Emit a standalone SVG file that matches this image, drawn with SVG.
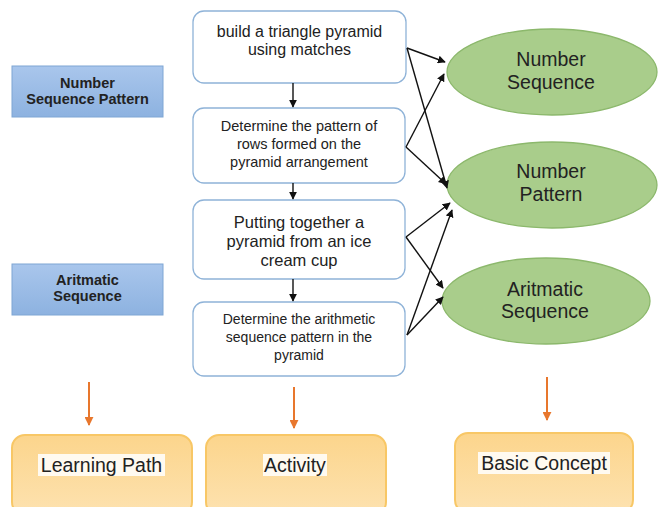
<svg xmlns="http://www.w3.org/2000/svg" width="659" height="507" viewBox="0 0 659 507">
<defs>
<linearGradient id="gBlue" x1="0" y1="0" x2="0" y2="1"><stop offset="0" stop-color="#a9c6ec"/><stop offset="1" stop-color="#8db2e0"/></linearGradient>
<linearGradient id="gOr" x1="0" y1="0" x2="0" y2="1"><stop offset="0" stop-color="#fcd58c"/><stop offset="1" stop-color="#fde2b0"/></linearGradient>
<marker id="ab" viewBox="0 0 10 10" refX="9" refY="5" markerWidth="8" markerHeight="8" markerUnits="userSpaceOnUse" orient="auto"><path d="M0,0 L10,5 L0,10 z" fill="#111"/></marker>
<marker id="ao" viewBox="0 0 10 10" refX="9" refY="5" markerWidth="9" markerHeight="9" markerUnits="userSpaceOnUse" orient="auto"><path d="M0,0 L10,5 L0,10 z" fill="#e8772d"/></marker>
</defs>
<style>
text{font-family:"Liberation Sans",Arial,sans-serif;fill:#222;text-anchor:middle}
.blue{fill:url(#gBlue);stroke:#7fa6d4;stroke-width:1}
.bt{font-weight:bold;font-size:14.5px}
.act{fill:#fff;stroke:#8fb3d8;stroke-width:1.3}
.ell{fill:#a9cd8b;stroke:#8cb86c;stroke-width:1.3}
.et{font-size:19.5px}
.org{fill:url(#gOr);stroke:#f8c766;stroke-width:2}
.ot{font-size:19.5px}
.hl{fill:#fffaf0}
.c{stroke:#111;stroke-width:1.4;fill:none;marker-end:url(#ab)}
.co{stroke:#e8772d;stroke-width:2;fill:none;marker-end:url(#ao)}
</style>
<rect width="659" height="507" fill="#fff"/>

<g id="lp1"><rect class="blue" x="12" y="66" width="151" height="51"/><text class="bt" x="87.5" y="88">Number</text><text class="bt" x="87.5" y="104">Sequence Pattern</text></g>
<g id="lp2"><rect class="blue" x="12" y="264" width="151" height="51"/><text class="bt" x="87.5" y="285">Aritmatic</text><text class="bt" x="87.5" y="301">Sequence</text></g>

<g id="a1"><rect class="act" x="193" y="11" width="213" height="72" rx="11"/><text font-size="16" x="299.5" y="37">build a triangle pyramid</text><text font-size="16" x="299.5" y="55">using matches</text></g>
<g id="a2"><rect class="act" x="193" y="108" width="212" height="75" rx="11"/><text font-size="14.5" x="299" y="131">Determine the pattern of</text><text font-size="14.5" x="299" y="149">rows formed on the</text><text font-size="14.5" x="299" y="167">pyramid arrangement</text></g>
<g id="a3"><rect class="act" x="193" y="200" width="212" height="79" rx="11"/><text font-size="16.5" x="299" y="228">Putting together a</text><text font-size="16.5" x="299" y="247">pyramid from an ice</text><text font-size="16.5" x="299" y="266">cream cup</text></g>
<g id="a4"><rect class="act" x="193" y="302" width="212" height="74" rx="11"/><text font-size="14" x="299" y="324">Determine the arithmetic</text><text font-size="14" x="299" y="342">sequence pattern in the</text><text font-size="14" x="299" y="360">pyramid</text></g>

<g id="c1"><ellipse class="ell" cx="552" cy="72" rx="105" ry="43"/><text class="et" x="551" y="66">Number</text><text class="et" x="551" y="89">Sequence</text></g>
<g id="c2"><ellipse class="ell" cx="552" cy="185" rx="105" ry="43"/><text class="et" x="551" y="178">Number</text><text class="et" x="551" y="201">Pattern</text></g>
<g id="c3"><ellipse class="ell" cx="546" cy="301" rx="104" ry="43"/><text class="et" x="545" y="296">Aritmatic</text><text class="et" x="545" y="318">Sequence</text></g>

<g id="o1"><rect class="org" x="12" y="435" width="180" height="80" rx="13"/><rect class="hl" x="38" y="454" width="127" height="22"/><text class="ot" x="101.5" y="472">Learning Path</text></g>
<g id="o2"><rect class="org" x="206" y="435" width="180" height="80" rx="13"/><rect class="hl" x="263" y="454" width="64" height="22"/><text class="ot" x="295" y="472">Activity</text></g>
<g id="o3"><rect class="org" x="455" y="433" width="178" height="80" rx="13"/><rect class="hl" x="478" y="452" width="132" height="22"/><text class="ot" x="544" y="470">Basic Concept</text></g>

<g id="connectors">
<line class="c" x1="293" y1="83" x2="293" y2="107"/>
<line class="c" x1="293" y1="183" x2="293" y2="199"/>
<line class="c" x1="293" y1="279" x2="293" y2="301"/>
<line class="c" x1="407" y1="48" x2="445" y2="62"/>
<line class="c" x1="407" y1="48" x2="447" y2="188"/>
<line class="c" x1="406" y1="147" x2="444" y2="74"/>
<line class="c" x1="406" y1="147" x2="446" y2="184"/>
<line class="c" x1="406" y1="237" x2="450" y2="203"/>
<line class="c" x1="406" y1="237" x2="443" y2="288"/>
<line class="c" x1="407" y1="335" x2="443" y2="297"/>
<line class="c" x1="407" y1="335" x2="452" y2="210"/>
<line class="co" x1="89" y1="382" x2="89" y2="425"/>
<line class="co" x1="294" y1="387" x2="294" y2="428"/>
<line class="co" x1="547" y1="377" x2="547" y2="420"/>
</g>
</svg>
